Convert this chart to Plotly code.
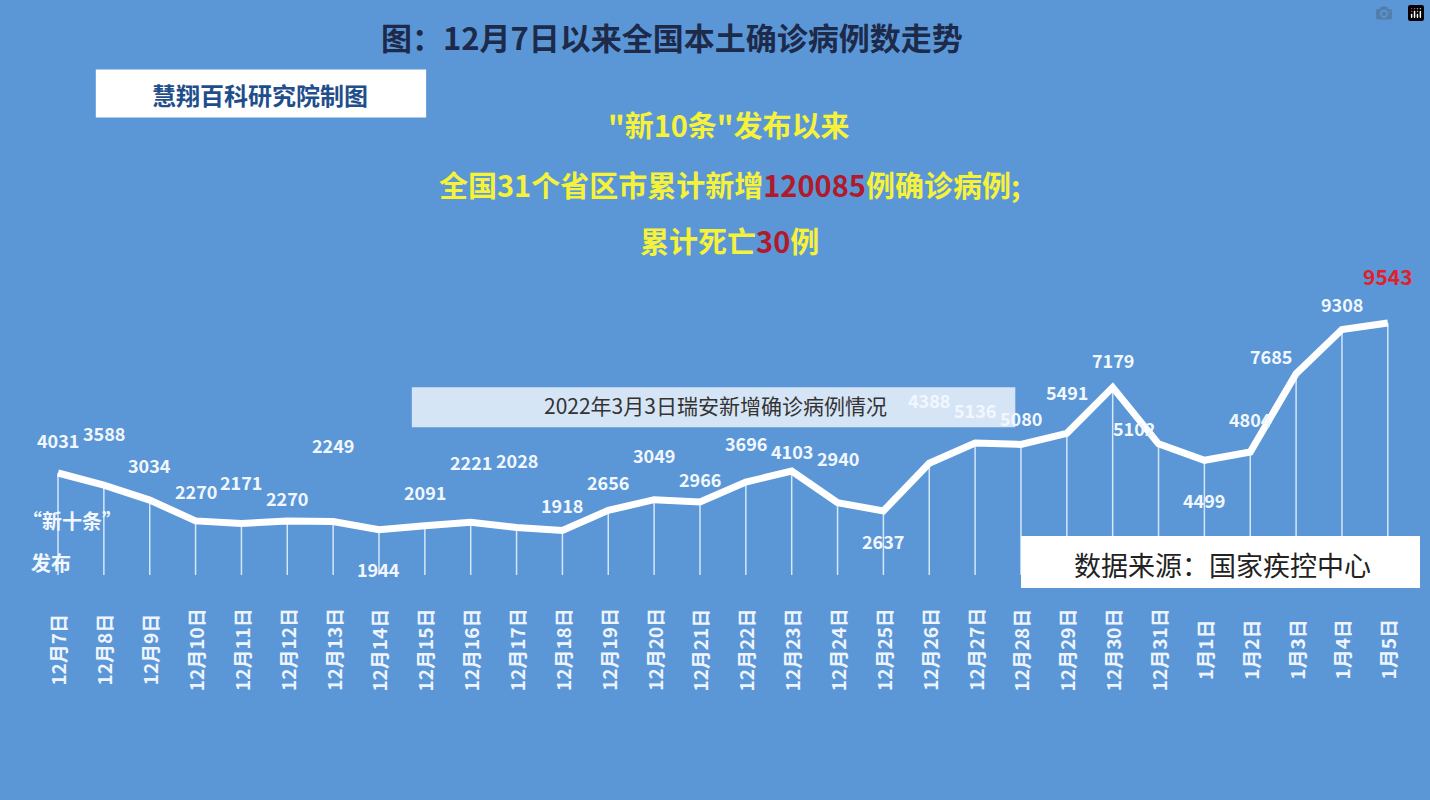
import plotly.graph_objects as go

dates = ["12月7日","12月8日","12月9日","12月10日","12月11日","12月12日","12月13日","12月14日",
         "12月15日","12月16日","12月17日","12月18日","12月19日","12月20日","12月21日","12月22日",
         "12月23日","12月24日","12月25日","12月26日","12月27日","12月28日","12月29日","12月30日",
         "12月31日","1月1日","1月2日","1月3日","1月4日","1月5日"]
cases = [4031,3588,3034,2270,2171,2270,2249,1944,2091,2221,2028,1918,2656,3049,2966,3696,
         4103,2940,2637,4388,5136,5080,5491,7179,5102,4499,4804,7685,9308,9543]
# label offsets (px) for value labels
yoff = [33,52,35,30,42,23,76,-39,34,60,67,25,28,45,23,39,20,45,-30,63,33,26,41,27,16,-40,33,18,25,47]
xoff = [0,0,0,0,0,0,0,0,0,0,0,0,0,0,0,0,0,0,0,0,0,0,0,0,-25,0,0,-25,0,0]

BG = "#5b97d6"
F = "Noto Sans CJK SC"
x = list(range(len(dates)))
base = 281

dx, dy = [], []
for i, v in enumerate(cases):
    dx += [i, i, None]; dy += [v, base, None]

fig = go.Figure()
fig.add_trace(go.Scatter(x=dx, y=dy, mode="lines", line=dict(color="rgba(235,245,255,0.85)", width=1.5),
                         hoverinfo="skip"))
fig.add_trace(go.Scatter(x=x, y=cases, mode="lines", line=dict(color="white", width=7), hoverinfo="skip"))

ann = []
for i, v in enumerate(cases):
    last = i == len(cases) - 1
    ann.append(dict(x=i, y=v, text=f"<b>{v}</b>", showarrow=False, xshift=xoff[i], yshift=yoff[i],
                    xanchor="center", yanchor="middle",
                    font=dict(family=F, size=21 if last else 18, color="#e0202a" if last else "#f2f7ff")))
    ann.append(dict(x=i, y=0.188, yref="paper", text=f"<b>{dates[i]}</b>", showarrow=False, textangle=-90,
                    xanchor="center", yanchor="middle", font=dict(family=F, size=19, color="#eef4ff")))

def pa(xp, yp, text, size, color):
    return dict(x=xp, y=yp, xref="paper", yref="paper", showarrow=False, xanchor="center", yanchor="middle",
                text=text, font=dict(family=F, size=size, color=color))

ann += [
    pa(0.47, 0.955, "<b>图：12月7日以来全国本土确诊病例数走势</b>", 31, "#1d2a4a"),
    pa(0.51, 0.845, "<b>\"新10条\"发布以来</b>", 29, "#f6f23a"),
    pa(0.51, 0.77, "<b>全国31个省区市累计新增<span style='color:#b01a2a'>120085</span>例确诊病例;</b>", 29, "#f6f23a"),
    pa(0.51, 0.7, "<b>累计死亡<span style='color:#b01a2a'>30</span>例</b>", 29, "#f6f23a"),
    pa(0.05, 0.35, "<b>“新十条”</b>", 20, "#f2f7ff"),
    pa(0.036, 0.297, "<b>发布</b>", 20, "#f2f7ff"),
    pa(0.182, 0.882, "<b>慧翔百科研究院制图</b>", 24, "#1f4e8c"),
    pa(0.855, 0.295, "数据来源：国家疾控中心", 27, "#222"),
    pa(0.5, 0.4935, "2022年3月3日瑞安新增确诊病例情况", 21, "#333"),
]
shapes = [
    dict(type="rect", xref="paper", yref="paper", x0=0.067, x1=0.298, y0=0.853, y1=0.913,
         fillcolor="white", line=dict(width=0), layer="below"),
    dict(type="rect", xref="paper", yref="paper", x0=0.714, x1=0.993, y0=0.265, y1=0.33,
         fillcolor="white", line=dict(width=0)),
    dict(type="rect", xref="paper", yref="paper", x0=0.288, x1=0.71, y0=0.466, y1=0.516,
         fillcolor="rgba(255,255,255,0.75)", line=dict(width=0)),
]

fig.update_layout(width=1430, height=800, margin=dict(l=0, r=0, t=0, b=0), showlegend=False,
                  paper_bgcolor=BG, plot_bgcolor=BG, annotations=ann, shapes=shapes,
                  xaxis=dict(range=[-1.265, 29.92], visible=False, fixedrange=True),
                  yaxis=dict(range=[-7991, 21421], visible=False, fixedrange=True))
fig.write_html("out.html", post_script="document.body.style.margin='0';document.body.style.background='%s';" % BG)
